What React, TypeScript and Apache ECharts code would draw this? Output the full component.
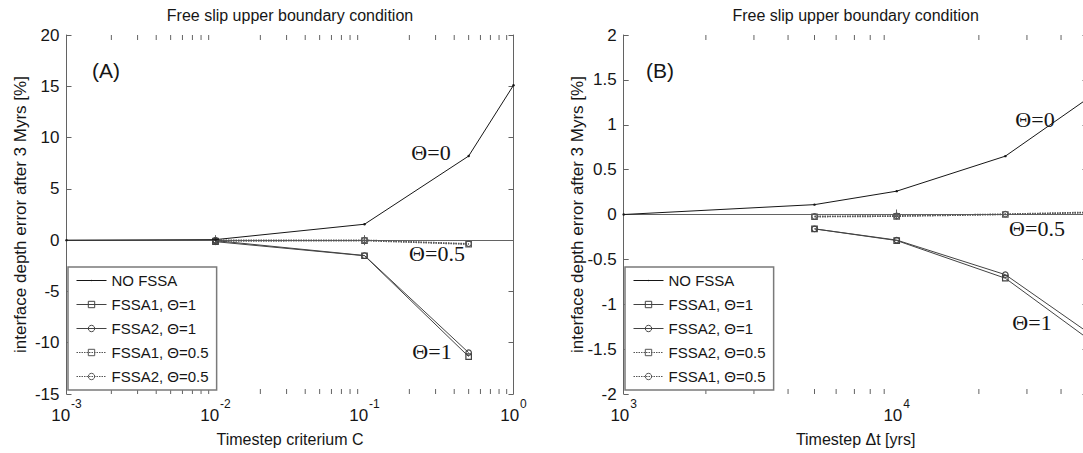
import React, { useEffect, useRef } from "react";
import * as echarts from "echarts";

// ---- Panel A: timestep criterium C ----
const cAll = [0.001, 0.01, 0.1, 0.5, 1];
const cNoFssa = [0, 0.05, 1.55, 8.2, 15.1];
const cSteps = [0.01, 0.1, 0.5];
const cFssa1Theta1 = [-0.15, -1.52, -11.35];
const cFssa2Theta1 = [-0.05, -1.5, -10.97];
const cFssa1Theta05 = [-0.1, -0.05, -0.4];
const cFssa2Theta05 = [0.0, 0.0, -0.35];
const cRange = [0.001, 1];
const errRangeA = [-15, 20];
const errStepA = 5;

// ---- Panel B: timestep dt in years ----
const dtAll = [1000, 5000, 10000, 25000, 50000];
const dtNoFssa = [0, 0.11, 0.26, 0.65, 1.29];
const dtSteps = [5000, 10000, 25000, 50000];
const dtFssa1Theta1 = [-0.16, -0.29, -0.71, -1.38];
const dtFssa2Theta1 = [-0.16, -0.285, -0.67, -1.31];
const dtFssa2Theta05 = [-0.025, -0.02, 0.0, 0.02];
const dtFssa1Theta05 = [-0.02, -0.015, 0.005, 0.025];
const dtRange = [1000, 50000];
const errRangeB = [-2, 2];
const errStepB = 0.5;

const SANS = "Liberation Sans, Arial, Helvetica, sans-serif";
const SERIF = "Liberation Serif, Times New Roman, serif";
const AXIS = "#636363";
const INK = "#161616";

// small dot marker: the invisible move-to points enlarge the bounding box
const DOT = "path://M0,0M10,10M4,5A1,1,0,1,0,6,5A1,1,0,1,0,4,5Z";

type Kind = "base" | "theta1" | "theta05";
type Marker = "dot" | "rect" | "circle";
interface LineDef {
  name: string;
  x: number[];
  y: number[];
  kind: Kind;
  marker: Marker;
}
interface Note {
  text: string;
  x: number;
  y: number;
}
interface PanelDef {
  range: number[];
  err: number[];
  step: number;
  lines: LineDef[];
  legendOrder: string[];
  gridLeft: number;
  gridWidth: number;
  title: string;
  xName: string;
  panelTag: Note;
  notes: Note[];
  legendLeft: number;
  transparent: boolean;
}

function minorTicks(range: number[]): number[] {
  const out: number[] = [];
  const lo = Math.floor(Math.log10(range[0]));
  const hi = Math.ceil(Math.log10(range[1]));
  for (let e = lo; e < hi; e++) {
    for (let k = 2; k <= 9; k++) {
      const v = k * Math.pow(10, e);
      if (v > range[0] && v < range[1]) out.push(v);
    }
  }
  return out;
}

function styleFor(l: LineDef) {
  const color = l.kind === "base" ? INK : l.kind === "theta1" ? "#434343" : "#555555";
  const lineStyle: any = { color, width: 1 };
  if (l.kind === "theta05") {
    lineStyle.type = [1.5, 1];
    lineStyle.width = 1.4;
  }
  if (l.marker === "dot") {
    return { symbol: DOT, symbolSize: 12, itemStyle: { color }, lineStyle };
  }
  return {
    symbol: l.marker,
    symbolSize: 5.5,
    itemStyle: { color: "rgba(255,255,255,0)", borderColor: color, borderWidth: 1.2 },
    lineStyle,
  };
}

function buildOption(p: PanelDef): any {
  const gridTop = 35;
  const gridHeight = 359;
  const logLabel = (v: number) => {
    const lg = Math.log10(v);
    const e = Math.round(lg);
    if (Math.abs(lg - e) > 1e-6) return "";
    return `{b|10}{s|${e}}`;
  };
  const tick = { show: true, inside: true, length: 5, lineStyle: { color: AXIS } };
  const axLine = { show: true, lineStyle: { color: AXIS, width: 1 } };

  const series: any[] = p.lines.map((l) => ({
    type: "line",
    name: l.name,
    xAxisIndex: 0,
    yAxisIndex: 0,
    data: l.x.map((x, i) => [x, l.y[i]]),
    z: l.kind === "base" ? 4 : 3,
    ...styleFor(l),
  }));

  series.push({
    type: "custom",
    xAxisIndex: 0,
    yAxisIndex: 0,
    silent: true,
    z: 1,
    data: minorTicks(p.range).map((v) => [v, 0]),
    renderItem: (params: any, api: any) => {
      const x = api.coord([api.value(0), 0])[0];
      const cs = params.coordSys;
      const yb = cs.y + cs.height;
      const yt = cs.y;
      const st = { stroke: AXIS, lineWidth: 1 };
      return {
        type: "group",
        children: [
          { type: "line", shape: { x1: x, y1: yb, x2: x, y2: yb - 5 }, style: st },
          { type: "line", shape: { x1: x, y1: yt, x2: x, y2: yt + 5 }, style: st },
        ],
      };
    },
  });

  const noteText = (n: Note, font: string, size: number) => ({
    type: "text",
    x: n.x,
    y: n.y,
    silent: true,
    style: {
      text: n.text,
      fill: INK,
      font: `${size}px ${font}`,
      align: "center",
      verticalAlign: "middle",
    },
  });

  return {
    animation: false,
    backgroundColor: p.transparent ? "transparent" : "#fff",
    grid: {
      left: p.gridLeft,
      top: gridTop,
      width: p.gridWidth,
      height: gridHeight,
      containLabel: false,
      outerBoundsMode: "none",
    },
    xAxis: [
      {
        type: "log",
        logBase: 10,
        min: p.range[0],
        max: p.range[1],
        position: "bottom",
        axisLine: axLine,
        axisTick: tick,
        splitLine: { show: false },
        showMaxLabel: true,
        axisLabel: {
          margin: 4,
          formatter: logLabel,
          rich: {
            b: { fontSize: 17, fontFamily: SANS, color: INK },
            s: { fontSize: 12, fontFamily: SANS, color: INK, padding: [0, 0, 22, 1] },
          },
        },
        name: p.xName,
        nameLocation: "middle",
        nameGap: 37,
        nameMoveOverlap: false,
        nameTextStyle: { fontSize: 16, fontFamily: SANS, color: INK },
      },
      {
        type: "log",
        logBase: 10,
        min: p.range[0],
        max: p.range[1],
        position: "top",
        axisLine: axLine,
        axisTick: tick,
        axisLabel: { show: false },
        splitLine: { show: false },
      },
    ],
    yAxis: [
      {
        type: "value",
        min: p.err[0],
        max: p.err[1],
        interval: p.step,
        position: "left",
        axisLine: axLine,
        axisTick: tick,
        splitLine: { show: false },
        axisLabel: { margin: 7, fontSize: 17, fontFamily: SANS, color: INK },
        name: "interface depth error after 3 Myrs [%]",
        nameLocation: "middle",
        nameRotate: 90,
        nameGap: 38,
        nameMoveOverlap: false,
        nameTextStyle: { fontSize: 17, fontFamily: SANS, color: INK },
      },
      {
        type: "value",
        min: p.err[0],
        max: p.err[1],
        interval: p.step,
        position: "right",
        axisLine: axLine,
        axisTick: tick,
        axisLabel: { show: false },
        splitLine: { show: false },
      },
    ],
    legend: {
      orient: "vertical",
      left: p.legendLeft,
      top: 267,
      padding: [5, 8, 5, 8],
      itemWidth: 30,
      itemHeight: 8,
      itemGap: 7,
      selectedMode: false,
      backgroundColor: "#fff",
      borderColor: "#7a7a7a",
      borderWidth: 1.5,
      borderRadius: 0,
      itemStyle: { borderWidth: 1 },
      lineStyle: { width: 1 },
      textStyle: { fontSize: 15, fontFamily: SANS, color: INK, lineHeight: 17 },
      data: p.legendOrder,
    },
    graphic: [
      noteText({ text: p.title, x: p.gridLeft + p.gridWidth / 2, y: 15 }, SANS, 16),
      noteText(p.panelTag, SANS, 21),
      ...p.notes.map((n) => noteText(n, SERIF, 22)),
    ],
    series,
  };
}

const panelA: PanelDef = {
  range: cRange,
  err: errRangeA,
  step: errStepA,
  lines: [
    { name: "FSSA1, Θ=0.5", x: cSteps, y: cFssa1Theta05, kind: "theta05", marker: "rect" },
    { name: "FSSA2, Θ=0.5", x: cSteps, y: cFssa2Theta05, kind: "theta05", marker: "circle" },
    { name: "FSSA1, Θ=1", x: cSteps, y: cFssa1Theta1, kind: "theta1", marker: "rect" },
    { name: "FSSA2, Θ=1", x: cSteps, y: cFssa2Theta1, kind: "theta1", marker: "circle" },
    { name: "NO FSSA", x: cAll, y: cNoFssa, kind: "base", marker: "dot" },
  ],
  legendOrder: ["NO FSSA", "FSSA1, Θ=1", "FSSA2, Θ=1", "FSSA1, Θ=0.5", "FSSA2, Θ=0.5"],
  gridLeft: 66.5,
  gridWidth: 447,
  title: "Free slip upper boundary condition",
  xName: "Timestep criterium C",
  panelTag: { text: "(A)", x: 106, y: 70 },
  notes: [
    { text: "Θ=0", x: 431, y: 152 },
    { text: "Θ=0.5", x: 437, y: 253 },
    { text: "Θ=1", x: 432, y: 351 },
  ],
  legendLeft: 68,
  transparent: false,
};

const panelB: PanelDef = {
  range: dtRange,
  err: errRangeB,
  step: errStepB,
  lines: [
    { name: "FSSA2, Θ=0.5", x: dtSteps, y: dtFssa2Theta05, kind: "theta05", marker: "rect" },
    { name: "FSSA1, Θ=0.5", x: dtSteps, y: dtFssa1Theta05, kind: "theta05", marker: "circle" },
    { name: "FSSA1, Θ=1", x: dtSteps, y: dtFssa1Theta1, kind: "theta1", marker: "rect" },
    { name: "FSSA2, Θ=1", x: dtSteps, y: dtFssa2Theta1, kind: "theta1", marker: "circle" },
    { name: "NO FSSA", x: dtAll, y: dtNoFssa, kind: "base", marker: "dot" },
  ],
  legendOrder: ["NO FSSA", "FSSA1, Θ=1", "FSSA2, Θ=1", "FSSA2, Θ=0.5", "FSSA1, Θ=0.5"],
  gridLeft: 83.7,
  gridWidth: 463.8,
  title: "Free slip upper boundary condition",
  xName: "Timestep Δt [yrs]",
  panelTag: { text: "(B)", x: 120, y: 70 },
  notes: [
    { text: "Θ=0", x: 495, y: 119 },
    { text: "Θ=0.5", x: 497, y: 228 },
    { text: "Θ=1", x: 492, y: 322 },
  ],
  legendLeft: 85,
  transparent: true,
};

export default function App() {
  const leftRef = useRef<HTMLDivElement>(null);
  const rightRef = useRef<HTMLDivElement>(null);

  useEffect(() => {
    const a = echarts.init(leftRef.current as HTMLDivElement, undefined, { renderer: "svg" });
    a.setOption(buildOption(panelA));
    const b = echarts.init(rightRef.current as HTMLDivElement, undefined, { renderer: "svg" });
    b.setOption(buildOption(panelB));
    return () => {
      a.dispose();
      b.dispose();
    };
  }, []);

  return (
    <div
      style={{
        position: "fixed",
        left: 0,
        top: 0,
        width: 1083,
        height: 453,
        overflow: "hidden",
        background: "#fff",
      }}
    >
      <div ref={leftRef} style={{ position: "absolute", left: 0, top: 0, width: 580, height: 453 }} />
      <div ref={rightRef} style={{ position: "absolute", left: 540, top: 0, width: 560, height: 453 }} />
    </div>
  );
}
